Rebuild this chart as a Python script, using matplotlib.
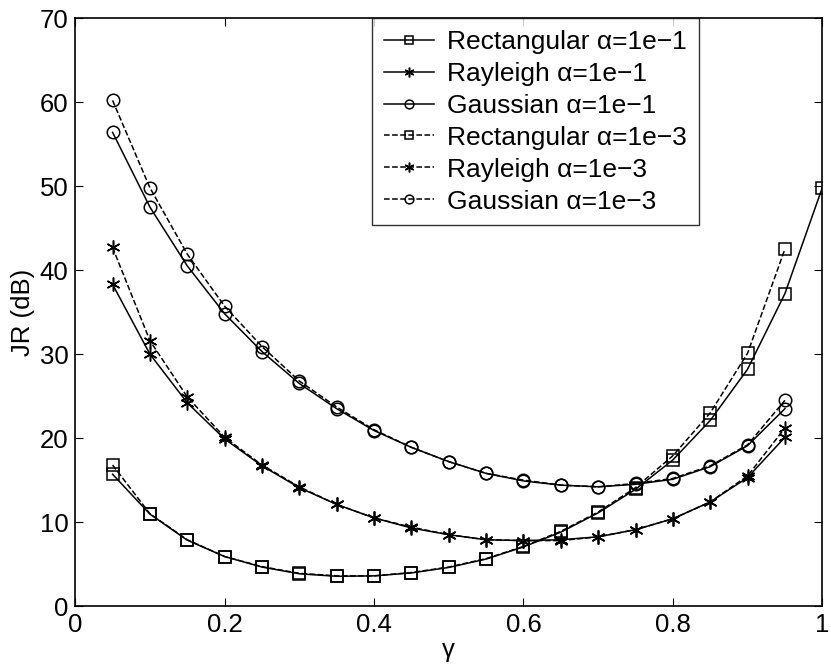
import matplotlib
matplotlib.use("Agg")
import matplotlib.pyplot as plt

gamma = [0.05, 0.10, 0.15, 0.20, 0.25, 0.30, 0.35, 0.40, 0.45, 0.50,
         0.55, 0.60, 0.65, 0.70, 0.75, 0.80, 0.85, 0.90, 0.95]
gamma_rect1 = gamma + [1.00]

# alpha = 1e-1 (solid)
rect_a1 = [15.7, 10.95, 7.85, 5.9, 4.65, 3.85, 3.55, 3.6, 3.95, 4.6,
           5.6, 7.05, 8.8, 11.1, 13.9, 17.4, 22.1, 28.2, 37.2, 49.8]
rayl_a1 = [38.3, 30.0, 24.2, 19.9, 16.7, 14.1, 12.1, 10.5, 9.3, 8.5,
           7.9, 7.8, 7.9, 8.25, 9.1, 10.4, 12.4, 15.3, 20.1]
gaus_a1 = [56.4, 47.5, 40.5, 34.8, 30.3, 26.5, 23.5, 20.9, 18.9, 17.2,
           15.8, 14.9, 14.4, 14.2, 14.5, 15.1, 16.6, 19.1, 23.5]

# alpha = 1e-3 (dashed)
rect_a3 = [16.8, 11.0, 7.9, 5.9, 4.7, 3.9, 3.6, 3.6, 4.0, 4.65,
           5.65, 7.1, 8.9, 11.2, 14.1, 17.9, 23.0, 30.1, 42.5]
rayl_a3 = [42.7, 31.6, 24.9, 20.1, 16.8, 14.2, 12.1, 10.5, 9.4, 8.5,
           7.9, 7.8, 7.8, 8.25, 9.1, 10.4, 12.4, 15.5, 21.2]
gaus_a3 = [60.2, 49.8, 41.9, 35.7, 30.9, 26.8, 23.7, 21.0, 18.9, 17.2,
           15.8, 15.0, 14.4, 14.2, 14.6, 15.2, 16.7, 19.2, 24.5]

plt.rcParams['font.family'] = ['Liberation Sans', 'DejaVu Sans']
fs = 18.5

fig = plt.figure(figsize=(8.31, 6.69), dpi=100)
ax = fig.add_axes([0.0905, 0.094, 0.899, 0.879])

kw = dict(color='black', linewidth=1.1, markerfacecolor='none',
          markeredgecolor='black', markeredgewidth=1.1)
asterisk = (6, 2, 0)
ax.plot(gamma_rect1, rect_a1, '-', marker='s', markersize=8, label='Rectangular \u03b1=1e\u22121', **kw)
ax.plot(gamma, rayl_a1, '-', marker=asterisk, markersize=10, label='Rayleigh \u03b1=1e\u22121', **kw)
ax.plot(gamma, gaus_a1, '-', marker='o', markersize=9, label='Gaussian \u03b1=1e\u22121', **kw)
ax.plot(gamma, rect_a3, '--', marker='s', markersize=8, label='Rectangular \u03b1=1e\u22123', **kw)
ax.plot(gamma, rayl_a3, '--', marker=asterisk, markersize=10, label='Rayleigh \u03b1=1e\u22123', **kw)
ax.plot(gamma, gaus_a3, '--', marker='o', markersize=9, label='Gaussian \u03b1=1e\u22123', **kw)

ax.set_xlim(0, 1)
ax.set_ylim(0, 70)
ax.set_xticks([0, 0.2, 0.4, 0.6, 0.8, 1])
ax.set_xticklabels(['0', '0.2', '0.4', '0.6', '0.8', '1'])
ax.set_yticks(range(0, 71, 10))
ax.tick_params(direction='in', top=True, right=True, labelsize=fs, length=6, pad=5)
for s in ax.spines.values():
    s.set_linewidth(1.2)

ax.set_xlabel('\u03b3', fontsize=fs, labelpad=1)
ax.set_ylabel('JR (dB)', fontsize=fs, labelpad=3)

leg = ax.legend(loc='upper left', bbox_to_anchor=(0.397, 1.0), fontsize=19,
                frameon=True, fancybox=False, edgecolor='black',
                handlelength=1.9, handletextpad=0.5, borderpad=0.45,
                labelspacing=0.3, markerscale=0.7, borderaxespad=0)
leg.get_frame().set_linewidth(1.0)

fig.savefig('out.png', dpi=100)
